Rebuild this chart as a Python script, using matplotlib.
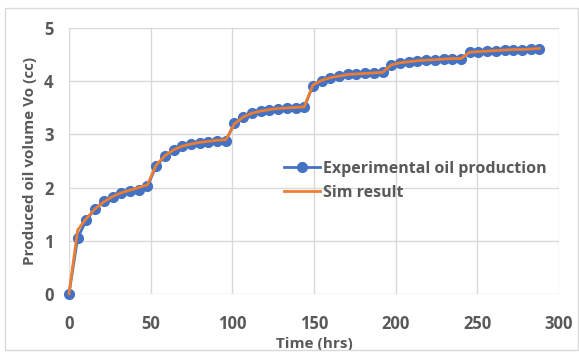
import matplotlib.pyplot as plt
from matplotlib.patches import Rectangle

# time (hrs)
tempo = [0, 5.3, 10.7, 16, 21.3, 26.7, 32, 37.3, 42.7, 48,
         53.3, 58.7, 64, 69.3, 74.7, 80, 85.3, 90.7, 96,
         101.3, 106.7, 112, 117.3, 122.7, 128, 133.3, 138.7, 144,
         149.3, 154.7, 160, 165.3, 170.7, 176, 181.3, 186.7, 192,
         197.3, 202.7, 208, 213.3, 218.7, 224, 229.3, 234.7, 240,
         245.3, 250.7, 256, 261.3, 266.7, 272, 277.3, 282.7, 288]

# experimental oil production (cc)
experimental = [0, 1.05, 1.39, 1.60, 1.74, 1.82, 1.89, 1.93, 1.96, 2.02,
                2.40, 2.59, 2.70, 2.78, 2.82, 2.84, 2.86, 2.88, 2.88,
                3.21, 3.33, 3.40, 3.44, 3.47, 3.48, 3.49, 3.50, 3.51,
                3.92, 4.01, 4.07, 4.10, 4.13, 4.14, 4.15, 4.16, 4.18,
                4.31, 4.35, 4.37, 4.38, 4.40, 4.41, 4.42, 4.43, 4.43,
                4.55, 4.56, 4.57, 4.58, 4.59, 4.60, 4.60, 4.61, 4.61]

# simulation result (cc)
simulacao = [0, 1.20, 1.42, 1.60, 1.73, 1.83, 1.90, 1.95, 2.00, 2.05,
             2.42, 2.60, 2.71, 2.78, 2.82, 2.85, 2.87, 2.89, 2.90,
             3.20, 3.33, 3.40, 3.44, 3.47, 3.49, 3.50, 3.51, 3.52,
             3.93, 4.02, 4.07, 4.10, 4.13, 4.14, 4.15, 4.16, 4.17,
             4.31, 4.35, 4.37, 4.39, 4.40, 4.41, 4.42, 4.43, 4.43,
             4.55, 4.56, 4.57, 4.58, 4.59, 4.60, 4.60, 4.61, 4.62]

cinza = '#595959'
plt.rcParams['font.family'] = ['Open Sans', 'DejaVu Sans']

fig = plt.figure(figsize=(5.79, 3.53), dpi=100)
fig.patches.append(Rectangle((5 / 579, 3 / 353), 573 / 579, 342 / 353,
                             transform=fig.transFigure, fill=False,
                             edgecolor='#d9d9d9', linewidth=1))
ax = fig.add_axes([69 / 579, 1 - 293.7 / 353, 490 / 579, 265.4 / 353])

ax.plot(tempo, experimental, '-o', color='#4472C4', lw=2, ms=7,
        label='Experimental oil production', zorder=3, clip_on=False)
ax.plot(tempo, simulacao, '-', color='#ED7D31', lw=2,
        label='Sim result', zorder=4, clip_on=False)

ax.set_xlim(0, 300)
ax.set_ylim(0, 5)
ax.set_xticks(range(0, 301, 50))
ax.set_yticks(range(0, 6))
ax.grid(True, color='#d9d9d9', lw=1)
ax.set_axisbelow(True)
for s in ax.spines.values():
    s.set_visible(False)
ax.tick_params(length=0, labelsize=12, labelcolor=cinza)
ax.tick_params(axis='x', pad=15)
ax.tick_params(axis='y', pad=11)
for t in ax.get_xticklabels() + ax.get_yticklabels():
    t.set_fontweight('bold')

ax.set_xlabel('Time (hrs)', fontsize=11, fontweight='bold', color=cinza, labelpad=3)
ax.set_ylabel('Produced oil volume Vo (cc)', fontsize=11, fontweight='bold',
              color=cinza, labelpad=5)

leg = ax.legend(loc='center left', bbox_to_anchor=(270 / 579, 1 - 181 / 353),
                bbox_transform=fig.transFigure, frameon=False, fontsize=11.5,
                handlelength=2.2, handletextpad=0.2, labelspacing=0.5)
for t in leg.get_texts():
    t.set_color(cinza)
    t.set_fontweight('bold')

fig.savefig('out.png', dpi=100)
